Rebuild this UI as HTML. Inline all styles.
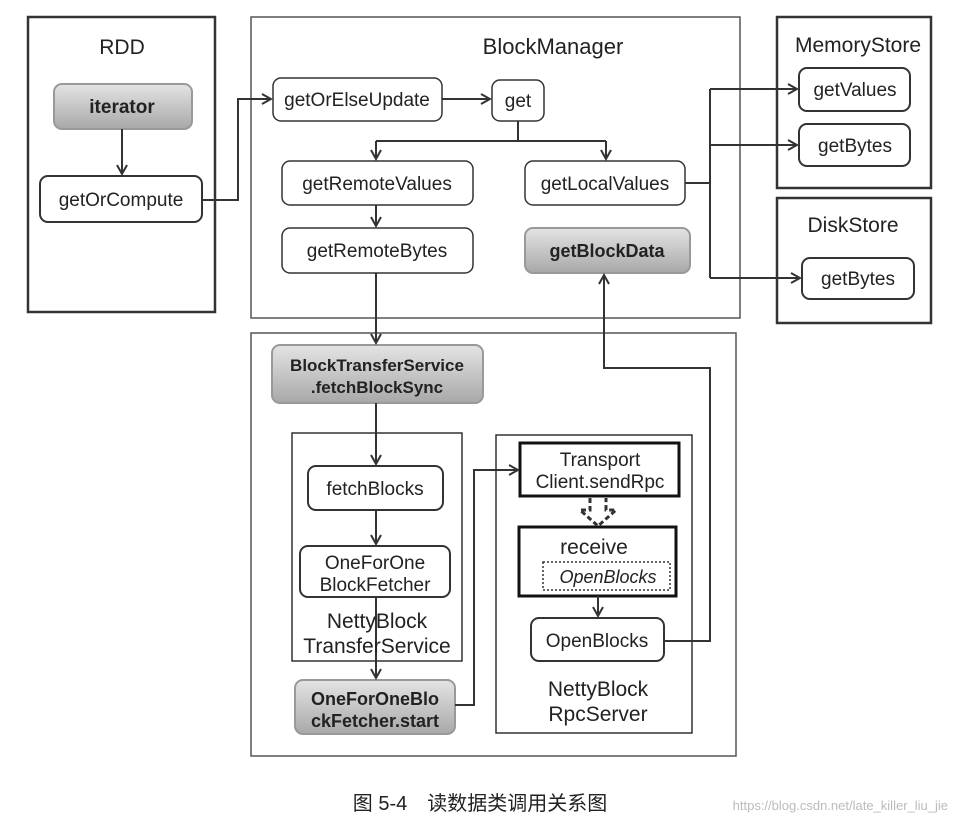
<!DOCTYPE html>
<html><head><meta charset="utf-8"><style>
body{margin:0;background:#fff;}
svg{display:block;font-family:"Liberation Sans","Noto Sans CJK SC",sans-serif;}
</style></head><body>
<svg width="959" height="827" viewBox="0 0 959 827" xmlns="http://www.w3.org/2000/svg">
<defs>
<linearGradient id="g" x1="0" y1="0" x2="0" y2="1"><stop offset="0" stop-color="#e4e4e4"/><stop offset="1" stop-color="#a8a8a8"/></linearGradient>
<marker id="a" markerWidth="12" markerHeight="12" refX="10" refY="6" orient="auto" markerUnits="userSpaceOnUse"><path d="M1,1 L10,6 L1,11" fill="none" stroke="#333" stroke-width="2"/></marker>
</defs>
<g fill="none" stroke="#333">
<rect x="28" y="17" width="187" height="295" stroke-width="2.5"/>
<rect x="251" y="17" width="489" height="301" stroke-width="1.5" stroke="#555"/>
<rect x="777" y="17" width="154" height="171" stroke-width="2.5"/>
<rect x="777" y="198" width="154" height="125" stroke-width="2.5"/>
<rect x="251" y="333" width="485" height="423" stroke-width="1.5" stroke="#555"/>
<rect x="292" y="433" width="170" height="228" stroke-width="1.5"/>
<rect x="496" y="435" width="196" height="298" stroke-width="1.5"/>
</g>
<g stroke="#333" stroke-width="2" fill="#fff">
<rect x="54" y="84" width="138" height="45" rx="8" fill="url(#g)" stroke="#999"/>
<rect x="40" y="176" width="162" height="46" rx="8"/>
<rect x="273" y="78" width="169" height="43" rx="8" stroke-width="1.5"/>
<rect x="492" y="80" width="52" height="41" rx="8" stroke-width="1.5"/>
<rect x="282" y="161" width="191" height="44" rx="8" stroke-width="1.5"/>
<rect x="282" y="228" width="191" height="45" rx="8" stroke-width="1.5"/>
<rect x="525" y="161" width="160" height="44" rx="8" stroke-width="1.5"/>
<rect x="525" y="228" width="165" height="45" rx="8" fill="url(#g)" stroke="#999"/>
<rect x="799" y="68" width="111" height="43" rx="8"/>
<rect x="799" y="124" width="111" height="42" rx="8"/>
<rect x="802" y="258" width="112" height="41" rx="8"/>
<rect x="272" y="345" width="211" height="58" rx="8" fill="url(#g)" stroke="#999"/>
<rect x="308" y="466" width="135" height="44" rx="8"/>
<rect x="300" y="546" width="150" height="51" rx="8"/>
<rect x="295" y="680" width="160" height="54" rx="8" fill="url(#g)" stroke="#999"/>
<rect x="520" y="443" width="159" height="53" stroke-width="3" stroke="#111"/>
<rect x="519" y="527" width="157" height="69" stroke-width="3" stroke="#111"/>
<rect x="543" y="562" width="127" height="28" stroke-width="1.5" stroke-dasharray="2,2"/>
<rect x="531" y="618" width="133" height="43" rx="8"/>
</g>
<g fill="none" stroke="#333" stroke-width="2">
<path d="M122,129 V174" marker-end="url(#a)"/>
<path d="M202,200 H238 V99 H271" marker-end="url(#a)"/>
<path d="M442,99 H490" marker-end="url(#a)"/>
<path d="M518,121 V141 M376,141 H606"/>
<path d="M376,141 V159" marker-end="url(#a)"/>
<path d="M606,141 V159" marker-end="url(#a)"/>
<path d="M376,205 V226" marker-end="url(#a)"/>
<path d="M376,273 V343" marker-end="url(#a)"/>
<path d="M685,183 H710 M710,89 V278"/>
<path d="M710,89 H797" marker-end="url(#a)"/>
<path d="M710,145 H797" marker-end="url(#a)"/>
<path d="M710,278 H800" marker-end="url(#a)"/>
<path d="M376,403 V464" marker-end="url(#a)"/>
<path d="M376,510 V544" marker-end="url(#a)"/>
<path d="M376,597 V678" marker-end="url(#a)"/>
<path d="M455,705 H474 V470 H518" marker-end="url(#a)"/>
<path d="M598,596 V616" marker-end="url(#a)"/>
<path d="M664,641 H710 V368 H604 V275" marker-end="url(#a)"/>
<path d="M590,498 V510 H580 L598,526 L616,510 H606 V498" stroke-dasharray="5,3" stroke-width="3"/>
</g>
<g font-size="19" fill="#222" text-anchor="middle">
<text x="122" y="54" font-size="21">RDD</text>
<text x="553" y="54" font-size="22">BlockManager</text>
<text x="858" y="52" font-size="21">MemoryStore</text>
<text x="853" y="232" font-size="21">DiskStore</text>
<text x="122" y="113" font-weight="bold">iterator</text>
<text x="121" y="206">getOrCompute</text>
<text x="357" y="106">getOrElseUpdate</text>
<text x="518" y="107">get</text>
<text x="377" y="190">getRemoteValues</text>
<text x="377" y="257">getRemoteBytes</text>
<text x="605" y="190">getLocalValues</text>
<text x="607" y="257" font-weight="bold" font-size="18">getBlockData</text>
<text x="855" y="96">getValues</text>
<text x="855" y="152">getBytes</text>
<text x="858" y="285">getBytes</text>
<text x="377" y="371" font-weight="bold" font-size="17">BlockTransferService</text>
<text x="377" y="393" font-weight="bold" font-size="17">.fetchBlockSync</text>
<text x="375" y="495">fetchBlocks</text>
<text x="375" y="569">OneForOne</text>
<text x="375" y="591">BlockFetcher</text>
<text x="377" y="628" font-size="21">NettyBlock</text>
<text x="377" y="653" font-size="21">TransferService</text>
<text x="375" y="705" font-weight="bold" font-size="18">OneForOneBlo</text>
<text x="375" y="727" font-weight="bold" font-size="18">ckFetcher.start</text>
<text x="600" y="466">Transport</text>
<text x="600" y="488">Client.sendRpc</text>
<text x="594" y="554" font-size="21">receive</text>
<text x="608" y="583" font-style="italic" font-size="18">OpenBlocks</text>
<text x="597" y="647">OpenBlocks</text>
<text x="598" y="696" font-size="21">NettyBlock</text>
<text x="598" y="721" font-size="21">RpcServer</text>
<text x="480" y="810" font-size="20">图 5-4　读数据类调用关系图</text>
</g>
<text x="948" y="810" font-size="13" fill="#bbb" text-anchor="end" font-family="Liberation Sans,sans-serif">https://blog.csdn.net/late_killer_liu_jie</text>
</svg>
</body></html>
